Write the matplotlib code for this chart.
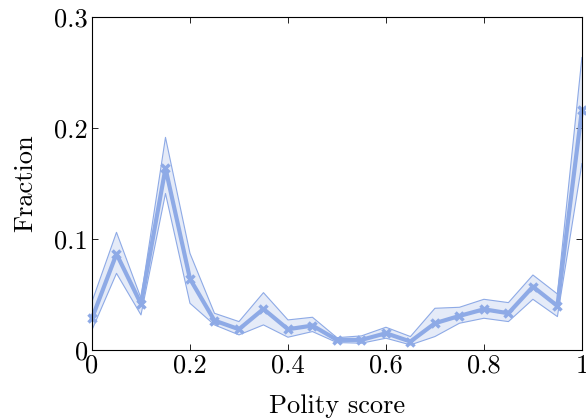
import numpy as np
import matplotlib
matplotlib.use("Agg")
import matplotlib.pyplot as plt

plt.rcParams['font.family'] = 'serif'
plt.rcParams['font.serif'] = ['cmr10']
plt.rcParams['mathtext.fontset'] = 'cm'
plt.rcParams['axes.formatter.use_mathtext'] = True

polity = [0.0, 0.05, 0.1, 0.15, 0.2, 0.25, 0.3, 0.35, 0.4, 0.45, 0.5,
          0.55, 0.6, 0.65, 0.7, 0.75, 0.8, 0.85, 0.9, 0.95, 1.0]
fraction = [0.0285, 0.0865, 0.0414, 0.1637, 0.064, 0.0264, 0.0186, 0.0369, 0.0186, 0.0219, 0.009,
            0.009, 0.015, 0.0075, 0.024, 0.0306, 0.0366, 0.033, 0.057, 0.0396, 0.216]
upper = [0.0435, 0.106, 0.0466, 0.1916, 0.087, 0.033, 0.0255, 0.0516, 0.027, 0.0294, 0.011,
         0.0126, 0.0204, 0.012, 0.0375, 0.0384, 0.0456, 0.0426, 0.0675, 0.0504, 0.2636]
lower = [0.018, 0.069, 0.0315, 0.141, 0.042, 0.0225, 0.0135, 0.0225, 0.0114, 0.0165, 0.0066,
         0.006, 0.0105, 0.0045, 0.012, 0.024, 0.0285, 0.0255, 0.0456, 0.030, 0.168]

col = '#8eaae6'

fig = plt.figure(figsize=(5.86, 4.18), dpi=100)
ax = fig.add_axes([0.157, 0.163, 0.836, 0.796])

ax.fill_between(polity, lower, upper, facecolor='#e5ebf8', edgecolor='none')
ax.plot(polity, upper, color=col, lw=0.8)
ax.plot(polity, lower, color=col, lw=0.8)
ax.plot(polity, fraction, color=col, lw=3, marker='x', ms=6, mew=2.5, clip_on=False)

ax.set_xlim(0, 1)
ax.set_ylim(0, 0.3)
ax.set_xticks([0, 0.2, 0.4, 0.6, 0.8, 1])
ax.set_xticklabels(['0', '0.2', '0.4', '0.6', '0.8', '1'])
ax.set_yticks([0, 0.1, 0.2, 0.3])
ax.set_yticklabels(['0', '0.1', '0.2', '0.3'])
ax.tick_params(direction='in', top=True, right=True, labelsize=19, length=4, width=0.6, pad=3)
ax.set_xlabel('Polity score', fontsize=19, labelpad=12)
ax.set_ylabel('Fraction', fontsize=19, labelpad=12)
for s in ax.spines.values():
    s.set_linewidth(0.8)

plt.savefig('out.png', dpi=100)
